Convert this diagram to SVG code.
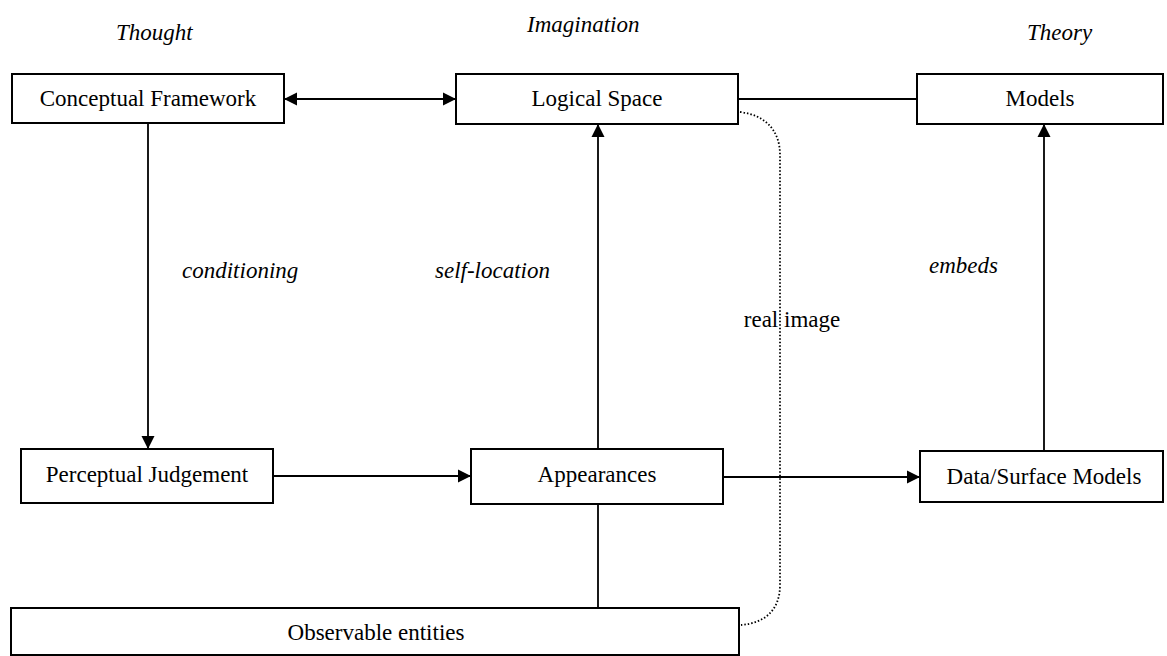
<svg xmlns="http://www.w3.org/2000/svg" width="1167" height="656" viewBox="0 0 1167 656" font-family="'Liberation Serif', 'Times New Roman', Times, serif">
<style>
.box{fill:#fff;stroke:#000;stroke-width:2}
text{font-family:'Liberation Serif','Times New Roman',Times,serif;font-size:23px;fill:#000}
.t{text-anchor:middle}
.it{font-style:italic}
.c{fill:none;stroke:#000;stroke-width:1.8}
.dot{fill:none;stroke:#000;stroke-width:1.8;stroke-dasharray:1.5 2}
</style>
<defs>
<marker id="ah" markerUnits="userSpaceOnUse" markerWidth="14" markerHeight="14" refX="13" refY="7" orient="auto-start-reverse">
<path d="M0,0.5 L13,7 L0,13.5 Z" fill="#000"/>
</marker>
</defs>
<rect width="1167" height="656" fill="#fff"/>
<g id="headers">
<text class="it" x="116" y="40" font-size="24">Thought</text>
<text class="it" x="527" y="32" font-size="24">Imagination</text>
<text class="it" x="1027" y="40" font-size="24">Theory</text>
</g>
<g id="connectors">
<line class="c" x1="284" y1="99" x2="456" y2="99" marker-start="url(#ah)" marker-end="url(#ah)"/>
<line class="c" x1="738" y1="99" x2="917" y2="99"/>
<line class="c" x1="148" y1="123" x2="148" y2="449" marker-end="url(#ah)"/>
<line class="c" x1="273" y1="476" x2="471" y2="476" marker-end="url(#ah)"/>
<line class="c" x1="598" y1="449" x2="598" y2="124" marker-end="url(#ah)"/>
<line class="c" x1="723" y1="477" x2="920" y2="477" marker-end="url(#ah)"/>
<line class="c" x1="1044" y1="451" x2="1044" y2="124" marker-end="url(#ah)"/>
<line class="c" x1="598" y1="504" x2="598" y2="608"/>
<path class="dot" d="M740,112 C765,115 780,130 780,155 L780,585 C780,610 765,623 741,625"/>
<text class="it" x="182" y="278">conditioning</text>
<text class="it" x="435" y="278">self-location</text>
<text class="it" x="929" y="273">embeds</text>
<text class="t" x="792" y="327">real image</text>
</g>
<g id="conceptual-framework">
<rect class="box" x="12" y="74" width="272" height="49"/>
<text class="t" x="148" y="106">Conceptual Framework</text>
</g>
<g id="logical-space">
<rect class="box" x="456" y="74" width="282" height="50"/>
<text class="t" x="597" y="106">Logical Space</text>
</g>
<g id="models">
<rect class="box" x="917" y="74" width="246" height="50"/>
<text class="t" x="1040" y="106">Models</text>
</g>
<g id="perceptual-judgement">
<rect class="box" x="21" y="449" width="252" height="54"/>
<text class="t" x="147" y="482">Perceptual Judgement</text>
</g>
<g id="appearances">
<rect class="box" x="471" y="449" width="252" height="55"/>
<text class="t" x="597" y="482">Appearances</text>
</g>
<g id="data-surface-models">
<rect class="box" x="920" y="451" width="243" height="51"/>
<text class="t" x="1044" y="484">Data/Surface Models</text>
</g>
<g id="observable-entities">
<rect class="box" x="11" y="608" width="728" height="47"/>
<text class="t" x="376" y="640">Observable entities</text>
</g>
</svg>
